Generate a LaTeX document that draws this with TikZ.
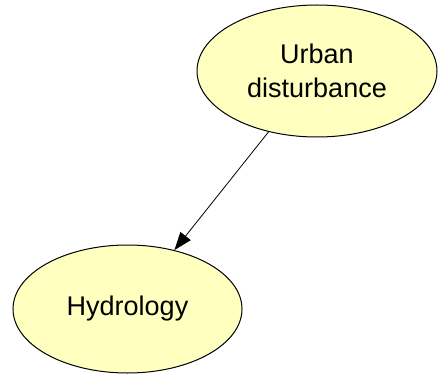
\documentclass[tikz,border=0pt]{standalone}
\usepackage{fontspec}
\setmainfont{Liberation Sans}
\usetikzlibrary{shapes.geometric,arrows.meta}
\definecolor{nodefill}{RGB}{255,255,192}
\tikzset{
  bnode/.style={ellipse, draw=black, line width=1pt, fill=nodefill, inner sep=0pt,
    font=\fontsize{27}{34}\selectfont, align=center, text=black},
  link/.style={draw=black, line width=0.8pt, -{Triangle[length=18pt,width=13pt]}}
}
\begin{document}
\begin{tikzpicture}[x=1pt,y=-1pt]
\useasboundingbox (0,0) rectangle (438,374);
\node[bnode, minimum width=240pt, minimum height=132pt] (urban) at (317,71) {Urban\\disturbance};
\node[bnode, minimum width=229pt, minimum height=128pt] (hydro) at (127.5,309) {Hydrology};
\draw[link] (urban) -- (hydro);
\end{tikzpicture}
\end{document}
